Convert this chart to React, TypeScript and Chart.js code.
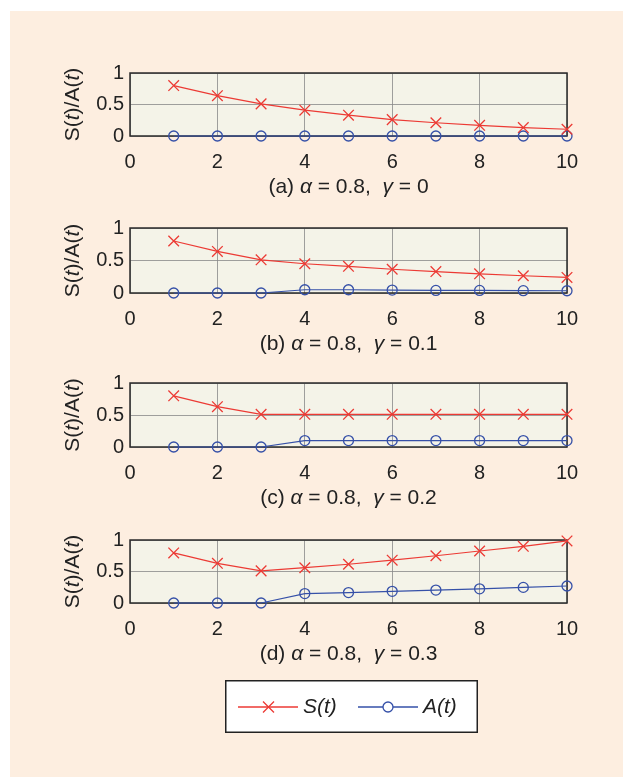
import React, { useEffect, useRef } from "react";
import { Chart, registerables } from "chart.js";
Chart.register(...registerables);

const tValues = [1, 2, 3, 4, 5, 6, 7, 8, 9, 10];
const xTicks = [0, 2, 4, 6, 8, 10];
const yTicks = [0, 0.5, 1];

const sA = [0.8, 0.64, 0.51, 0.41, 0.33, 0.26, 0.21, 0.17, 0.134, 0.107];
const aA = [0, 0, 0, 0, 0, 0, 0, 0, 0, 0];
const sB = [0.8, 0.64, 0.51, 0.45, 0.41, 0.365, 0.33, 0.295, 0.265, 0.24];
const aB = [0, 0, 0, 0.05, 0.05, 0.045, 0.04, 0.04, 0.036, 0.035];
const sC = [0.8, 0.63, 0.51, 0.51, 0.51, 0.51, 0.51, 0.51, 0.51, 0.51];
const aC = [0, 0, 0, 0.1, 0.1, 0.1, 0.1, 0.1, 0.1, 0.1];
const sD = [0.795, 0.63, 0.51, 0.56, 0.615, 0.68, 0.75, 0.825, 0.9, 0.985];
const aD = [0, 0, 0, 0.15, 0.165, 0.185, 0.205, 0.225, 0.248, 0.27];

const captionLetters = ["(a)", "(b)", "(c)", "(d)"];
const alphaValues = ["0.8", "0.8", "0.8", "0.8"];
const gammaValues = ["0", "0.1", "0.2", "0.3"];

const sSeries = [sA, sB, sC, sD];
const aSeries = [aA, aB, aC, aD];

const RED = "#ec3a34";
const BLUE = "#3550a8";
const FONT = "'Liberation Sans', Arial, sans-serif";

const panelTops = [70, 225, 380, 537];
const panelBottoms = [136, 293, 447, 603];
const PAD_TOP = 15;
const X_AXIS_H = 65;
const PLOT_LEFT = 130;
const PLOT_RIGHT = 567;

type Seg = { t: string; i?: boolean };

function drawRich(ctx: CanvasRenderingContext2D, segs: Seg[], cx: number, cy: number, size: number) {
  let total = 0;
  const widths = segs.map((s) => {
    ctx.font = `${s.i ? "italic " : ""}${size}px ${FONT}`;
    const w = ctx.measureText(s.t).width;
    total += w;
    return w;
  });
  let x = cx - total / 2;
  ctx.textBaseline = "middle";
  ctx.textAlign = "left";
  segs.forEach((s, k) => {
    ctx.font = `${s.i ? "italic " : ""}${size}px ${FONT}`;
    ctx.fillText(s.t, x, cy);
    x += widths[k];
  });
}

function Panel({ idx }: { idx: number }) {
  const ref = useRef<HTMLCanvasElement>(null);
  const top = panelTops[idx] - PAD_TOP;
  const height = panelBottoms[idx] - panelTops[idx] + PAD_TOP + X_AXIS_H;
  useEffect(() => {
    const decor = {
      id: "decor",
      beforeDraw(chart: any) {
        const { ctx, chartArea: a } = chart;
        ctx.save();
        ctx.fillStyle = "#f4f3e8";
        ctx.fillRect(a.left, a.top, a.right - a.left, a.bottom - a.top);
        ctx.restore();
      },
      beforeDatasetsDraw(chart: any) {
        const { ctx, chartArea: a } = chart;
        ctx.save();
        ctx.strokeStyle = "#2a2a2a";
        ctx.lineWidth = 1.5;
        ctx.strokeRect(a.left, a.top, a.right - a.left, a.bottom - a.top);
        ctx.restore();
      },
      afterDatasetsDraw(chart: any) {
        const { ctx, chartArea: a } = chart;
        ctx.save();
        ctx.fillStyle = "#222";
        drawRich(
          ctx,
          [
            { t: captionLetters[idx] + " " },
            { t: "α", i: true },
            { t: " = " + alphaValues[idx] + ",  " },
            { t: "γ", i: true },
            { t: " = " + gammaValues[idx] },
          ],
          (a.left + a.right) / 2,
          a.bottom + 51,
          21
        );
        ctx.translate(73, (a.top + a.bottom) / 2);
        ctx.rotate(-Math.PI / 2);
        drawRich(
          ctx,
          [{ t: "S(" }, { t: "t", i: true }, { t: ")/A(" }, { t: "t", i: true }, { t: ")" }],
          0,
          0,
          21
        );
        ctx.restore();
      },
    };
    const chart = new Chart(ref.current!, {
      type: "line",
      data: {
        datasets: [
          {
            label: "S(t)",
            data: tValues.map((t, k) => ({ x: t, y: sSeries[idx][k] })),
            borderColor: RED,
            borderWidth: 1.2,
            pointStyle: "crossRot",
            pointRadius: 7.5,
            pointBorderColor: RED,
            pointBorderWidth: 1.3,
            clip: false as any,
          },
          {
            label: "A(t)",
            data: tValues.map((t, k) => ({ x: t, y: aSeries[idx][k] })),
            borderColor: BLUE,
            borderWidth: 1.2,
            pointStyle: "circle",
            pointRadius: 5,
            pointBackgroundColor: "rgba(0,0,0,0)",
            pointBorderColor: BLUE,
            pointBorderWidth: 1.3,
            clip: false as any,
          },
        ],
      },
      options: {
        animation: false,
        responsive: false,
        events: [],
        layout: { padding: { top: PAD_TOP, right: 623 - PLOT_RIGHT, left: 0, bottom: 0 } },
        plugins: { legend: { display: false }, tooltip: { enabled: false } },
        scales: {
          x: {
            type: "linear",
            min: 0,
            max: 10,
            afterBuildTicks: (s: any) => {
              s.ticks = xTicks.map((v) => ({ value: v }));
            },
            afterFit: (s: any) => {
              s.height = X_AXIS_H;
            },
            ticks: { font: { size: 20, family: FONT }, color: "#222", padding: 14, maxRotation: 0 },
            grid: { color: "#888888", lineWidth: 0.8, drawTicks: false },
            border: { display: false },
          },
          y: {
            type: "linear",
            min: 0,
            max: 1,
            afterBuildTicks: (s: any) => {
              s.ticks = yTicks.map((v) => ({ value: v }));
            },
            afterFit: (s: any) => {
              s.width = PLOT_LEFT;
            },
            ticks: {
              font: { size: 20, family: FONT },
              color: "#222",
              padding: 6,
              callback: (v: any) => String(v),
            },
            grid: { color: "#888888", lineWidth: 0.8, drawTicks: false },
            border: { display: false },
          },
        },
      },
      plugins: [decor],
    });
    return () => chart.destroy();
  }, [idx]);
  return (
    <canvas
      ref={ref}
      width={623}
      height={height}
      style={{ position: "absolute", left: 0, top, width: 623, height }}
    />
  );
}

function Legend() {
  const ref = useRef<HTMLCanvasElement>(null);
  useEffect(() => {
    const c = ref.current!;
    const ctx = c.getContext("2d")!;
    ctx.clearRect(0, 0, c.width, c.height);
    ctx.fillStyle = "#ffffff";
    ctx.fillRect(0, 0, 253, 53);
    ctx.strokeStyle = "#222";
    ctx.lineWidth = 1.5;
    ctx.strokeRect(0.75, 0.75, 251.5, 51.5);
    const cy = 27;
    ctx.strokeStyle = RED;
    ctx.lineWidth = 1.3;
    ctx.beginPath();
    ctx.moveTo(13, cy);
    ctx.lineTo(73, cy);
    ctx.stroke();
    ctx.beginPath();
    ctx.moveTo(38, cy - 5.5);
    ctx.lineTo(49, cy + 5.5);
    ctx.moveTo(49, cy - 5.5);
    ctx.lineTo(38, cy + 5.5);
    ctx.stroke();
    ctx.fillStyle = "#222";
    ctx.textBaseline = "middle";
    ctx.font = `italic 21px ${FONT}`;
    ctx.fillText("S(t)", 78, cy);
    ctx.strokeStyle = BLUE;
    ctx.beginPath();
    ctx.moveTo(133, cy);
    ctx.lineTo(193, cy);
    ctx.stroke();
    ctx.beginPath();
    ctx.arc(163, cy, 5, 0, Math.PI * 2);
    ctx.fillStyle = "#fff";
    ctx.fill();
    ctx.stroke();
    ctx.fillStyle = "#222";
    ctx.fillText("A(t)", 198, cy);
  }, []);
  return (
    <canvas
      ref={ref}
      width={253}
      height={53}
      style={{ position: "absolute", left: 225, top: 680, width: 253, height: 53 }}
    />
  );
}

export default function App() {
  return (
    <div style={{ position: "absolute", left: 0, top: 0, width: 623, height: 777, background: "#fff" }}>
      <div
        style={{ position: "absolute", left: 10, top: 11, width: 613, height: 766, background: "#fdeee0" }}
      />
      {[0, 1, 2, 3].map((i) => (
        <Panel key={i} idx={i} />
      ))}
      <Legend />
    </div>
  );
}
